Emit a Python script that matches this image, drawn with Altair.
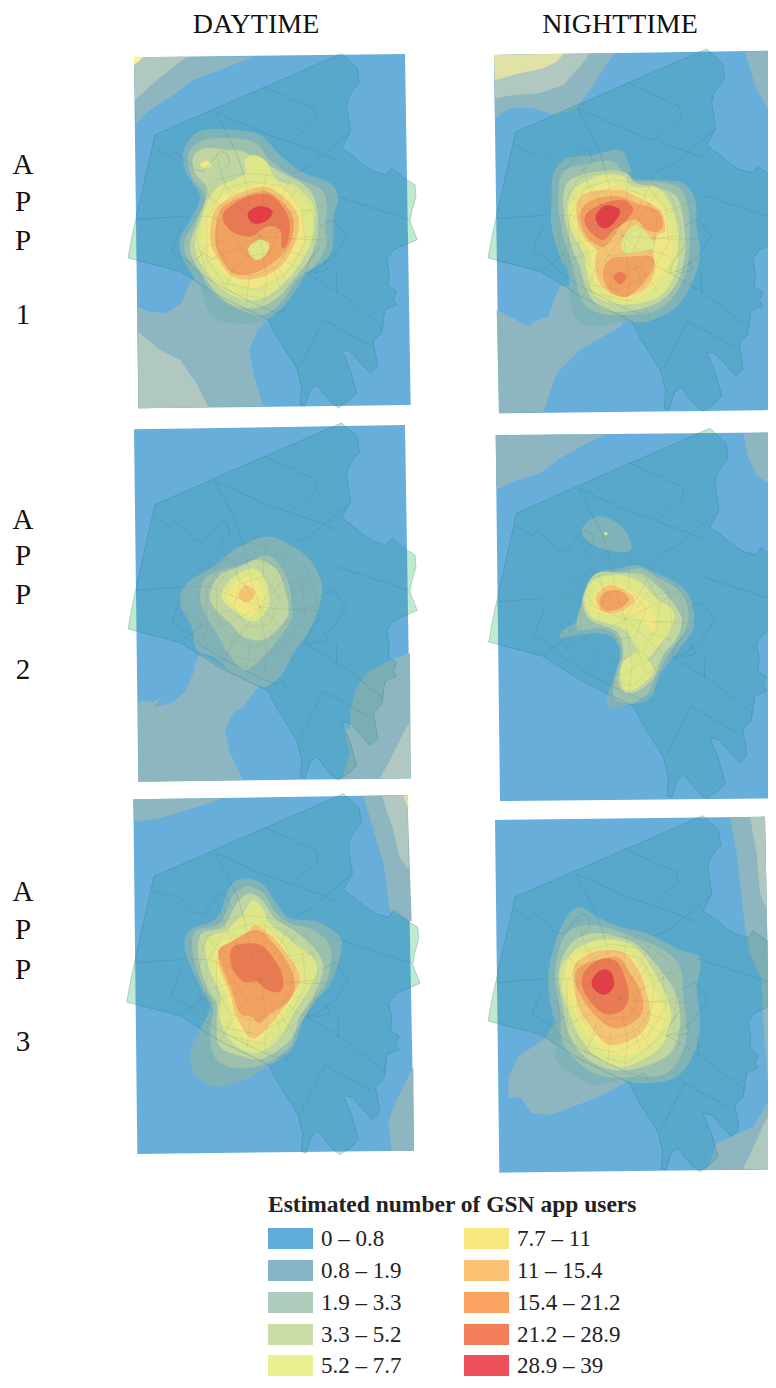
import altair as alt
import pandas as pd

LEGEND_COLORS = ["#5FABDA", "#86B6C6", "#ACCBBB", "#CBDCA8", "#E9F08F",
                 "#F8E67F", "#FBC273", "#FBA361", "#F27F58", "#ED5058"]
EDGE_COLORS = ["#67AEDB", "#8DB6C0", "#B0C8C0", "#E0E2A8", "#FFF98B",
               "#FFF17F", "#FFC86E", "#FFA55C", "#FF7B50", "#FF3B48"]
BLOB_COLORS = ["#67AEDB", "#80B3B8", "#9CC0AE", "#BFD6A0", "#DDE78A",
               "#EFE684", "#F2C474", "#F1A160", "#EA7A54", "#E23E48"]
LEVEL_LABELS = ["0 – 0.8", "0.8 – 1.9", "1.9 – 3.3", "3.3 – 5.2", "5.2 – 7.7",
                "7.7 – 11", "11 – 15.4", "15.4 – 21.2", "21.2 – 28.9", "28.9 – 39"]

# crop origins of the six maps
ORIGINS = [(120, 40), (480, 40), (120, 420), (480, 425), (120, 790), (480, 810)]
# west tip of county in each map and its stretch
TIPS = [(128, 258), (488, 258), (128, 629), (488.7, 642), (126.7, 1002), (488, 1021)]
STRETCH = [(1, 1), (1.023, 1.023), (1, 1.009), (1.035, 1.046), (1.014, 1.019), (1.006, 1.005)]

COUNTY = [(24,655),(36,590),(48,535),(105,285),(665,42),(680,55),(712,85),(718,130),(700,150),(685,175),(680,200),
          (692,275),(665,325),(700,350),(730,375),(760,395),(800,405),(815,385),(860,420),(885,435),(888,470),
          (875,515),(870,545),(878,565),(892,600),(820,630),(800,660),(808,700),(805,740),(830,755),(820,780),
          (830,795),(795,810),(785,880),(760,905),(770,960),(772,980),(750,1000),(690,935),(665,930),(690,990),
          (710,1060),(690,1080),(655,1105),(630,1085),(590,1035),(570,1050),(555,1100),(540,1095),(545,1045),
          (530,985),(470,890),(445,840),(300,770),(180,695)]

MAIN_LINES = [
    [(285,215),(350,340),(372,410)],
    [(285,215),(430,280),(600,340),(650,360)],
    [(520,400),(560,385),(690,280)],
    [(650,470),(865,540)],
    [(560,700),(660,760),(790,860)],
    [(180,530),(48,540)],
    [(430,140),(585,210),(590,240),(515,305)],
    [(610,840),(540,980)],
    [(610,840),(745,915)],
    [(650,700),(650,760)],
    [(105,325),(150,350),(165,335),(195,360),(225,390),(250,395),(300,335),(320,340),(330,370),(300,400)],
    [(600,560),(640,540),(680,590),(640,650),(590,690),(555,700),(570,660),(600,620)],
    [(610,660),(625,690),(580,700)],
    [(185,560),(155,635),(215,670),(250,640)],
    [(185,690),(210,670),(240,700),(300,740),(360,770),(420,800),(470,820),(490,810),(500,830)],
]
MESH_LINES = [
    [(372,410),(395,520),(420,590)],
    [(420,590),(470,500),(520,400)],
    [(420,590),(540,530),(650,470)],
    [(420,590),(560,600),(640,600)],
    [(420,590),(520,680),(560,700)],
    [(420,590),(440,720),(430,800)],
    [(420,590),(340,700),(300,770)],
    [(420,590),(280,660),(185,600)],
    [(420,590),(270,530),(180,530)],
    [(420,590),(320,450),(290,350)],
    [(330,470),(400,445),(480,470),(520,540),(510,620),(470,680),(400,710),(330,690),(290,620),(290,530),(330,470)],
    [(290,420),(380,400),(470,410),(560,470),(590,560),(580,650),(520,720),(440,780),(340,760),(260,700),(230,600),(250,490),(290,420)],
    [(360,520),(430,500),(480,560),(450,640),(380,650),(340,590),(360,520)],
    [(250,450),(300,510),(340,560)],
    [(530,450),(480,520),(450,560)],
    [(580,590),(500,600)],
    [(520,750),(470,680)],
    [(380,790),(390,690)],
    [(240,680),(320,630)],
    [(310,430),(345,465),(360,520)],
    [(440,400),(430,450),(430,500)],
    [(570,510),(500,520)],
    [(555,650),(490,630)],
    [(480,745),(450,660)],
    [(320,730),(350,660)],
    [(255,620),(330,600)],
    [(270,470),(330,520)],
    [(260,540),(260,660),(310,730),(410,750),(500,700),(555,610),(545,510),(490,440),(390,425),(310,450),(260,540)],
]

RASTER = [
    [(42,52),(855,42),(872,1095),(55,1105)],
    [(42,45),(875,32),(895,1110),(57,1120)],
    [(42,28),(855,15),(872,1075),(55,1085)],
    [(47,30),(885,22),(897,1120),(60,1128)],
    [(40,28),(862,15),(882,1082),(52,1092)],
    [(45,30),(855,20),(875,1078),(58,1088)],
]

# bands that run into the raster edge: (panel, level, outline)
EDGE_BANDS = [
    (0,1,[(48,250),(90,210),(160,165),(220,120),(300,90),(400,50),(42,52)]),
    (0,2,[(45,180),(100,130),(150,90),(200,50),(42,52)]),
    (0,4,[(43,75),(70,52),(42,52)]),
    (0,1,[(52,800),(90,815),(140,818),(185,790),(208,730),(240,700),(350,700),(450,830),(410,875),(388,930),(400,1000),(430,1098),(55,1105)]),
    (0,2,[(55,875),(120,930),(180,960),(230,1030),(265,1102),(55,1105)]),
    (1,1,[(45,235),(90,205),(160,205),(230,225),(290,205),(330,150),(375,80),(405,40),(42,45)]),
    (1,2,[(45,175),(100,165),(180,160),(250,135),(300,80),(330,40),(42,45)]),
    (1,3,[(45,120),(120,100),(190,85),(230,65),(250,42),(42,45)]),
    (1,1,[(50,810),(100,835),(145,860),(160,845),(205,830),(225,770),(240,740),(260,735),(400,830),(440,830),(420,860),(300,930),(230,1000),(190,1115),(57,1120)]),
    (1,1,[(795,35),(830,150),(860,200),(890,260),(880,32)]),
    (2,1,[(55,845),(100,845),(130,825),(100,860),(155,850),(195,815),(220,760),(225,730),(240,700),(400,790),(415,800),(370,860),(340,880),(315,930),(330,1000),(370,1080),(55,1085)]),
    (2,1,[(870,700),(800,725),(740,760),(705,810),(690,880),(690,930),(670,920),(690,1000),(665,1078),(872,1075)]),
    (2,2,[(868,905),(840,960),(810,1020),(780,1075),(872,1075)]),
    (3,1,[(50,195),(110,165),(180,145),(240,100),(320,55),(380,28),(47,30)]),
    (3,1,[(790,25),(805,100),(830,150),(890,195),(885,22)]),
    (4,1,[(42,95),(120,85),(220,55),(310,25),(40,28)]),
    (4,1,[(730,18),(770,150),(790,220),(810,360),(875,395),(862,15)]),
    (4,2,[(785,17),(820,120),(838,200),(866,240),(862,15)]),
    (4,3,[(850,17),(866,60),(862,15)]),
    (4,1,[(880,830),(850,890),(820,950),(805,1000),(815,1083),(882,1082)]),
    (5,1,[(750,22),(770,130),(795,350),(810,430),(845,510),(850,640),(868,870),(820,950),(710,1000),(680,1080),(875,1078),(855,20)]),
    (5,2,[(810,22),(830,130),(840,250),(860,300),(855,20)]),
    (5,2,[(872,900),(830,990),(790,1076),(875,1078)]),
    (5,1,[(85,800),(115,740),(200,680),(230,620),(450,810),(360,860),(210,915),(155,910),(120,860),(85,865)]),
]

# smooth closed bands, in drawing order: (panel, level, outline)
SMOOTH_BANDS = [
    # APP 1 daytime
    (0,1,[(270,268),(340,270),(420,285),(480,345),(545,395),(630,430),(655,475),(640,530),(640,600),(625,650),(560,700),(535,740),(490,800),(440,840),(400,850),(330,850),(280,830),(255,790),(235,730),(190,660),(180,600),(210,540),(240,470),(200,400),(190,340),(220,285)]),
    (0,2,[(300,295),(400,305),(450,360),(520,410),(600,445),(620,490),(615,570),(620,610),(590,670),(530,720),(490,780),(430,825),(360,810),(280,760),(240,700),(200,650),(195,600),(225,545),(255,470),(215,410),(205,345),(240,305)]),
    (0,3,[(320,330),(370,335),(470,390),(560,440),(590,500),(590,600),(560,670),(520,720),(470,775),(400,805),(320,785),(260,720),(210,630),(235,540),(262,450),(225,400),(220,350),(255,325)]),
    (0,4,[(400,345),(440,365),(470,420),(530,440),(580,500),(575,600),(540,670),(500,720),(440,770),(380,780),(310,750),(255,690),(225,620),(245,530),(285,450),(340,420),(375,400),(375,360)]),
    (0,5,[(240,373),(258,362),(275,373),(258,386)]),
    (0,5,[(430,430),(480,440),(540,500),(555,590),(530,650),(480,710),(420,740),(350,730),(280,670),(250,600),(265,520),(310,465),(370,445)]),
    (0,6,[(430,440),(490,470),(535,530),(525,610),(480,680),(410,715),(340,710),(290,650),(270,590),(285,510),(340,470)]),
    (0,7,[(290,550),(310,500),(380,465),(440,455),(490,490),(520,540),(510,610),(470,660),(400,700),(340,700),(300,650),(285,600)]),
    (0,8,[(310,520),(380,470),(450,465),(495,510),(510,560),(500,615),(485,620),(480,570),(440,560),(390,590),(330,570)]),
    (0,8,[(335,520),(385,495),(440,490),(495,525),(440,545),(395,560),(350,550)]),
    (0,9,[(383,522),(410,500),(445,503),(458,520),(435,545),(400,550)]),
    (0,4,[(385,625),(415,600),(447,610),(440,640),(415,660),(395,650)]),
    # APP 1 nighttime
    (1,1,[(220,400),(260,355),(340,345),(420,330),(450,380),(460,415),(530,420),(610,430),(645,480),(650,560),(660,640),(640,720),(590,800),(500,845),(430,845),(340,860),(290,840),(270,780),(265,700),(240,650),(215,560),(215,470)]),
    (1,2,[(250,395),(330,370),(400,365),(450,420),(530,425),(600,445),(625,510),(630,600),(620,690),(580,770),(520,815),(440,825),(360,820),(310,790),(290,730),(270,650),(245,570),(235,470)]),
    (1,3,[(270,420),(350,395),(430,395),(470,430),(530,440),(590,470),(610,540),(615,640),(590,730),(530,790),(430,815),(360,800),(320,750),(300,680),(275,620),(255,540),(250,470)]),
    (1,4,[(290,440),(370,405),(430,410),(460,440),(530,445),(570,490),(595,580),(590,680),(550,760),(480,790),(400,790),(340,760),(320,690),(310,640),(270,560),(265,490)]),
    (1,5,[(300,465),(370,430),(430,440),(470,460),(540,490),(570,560),(575,650),(540,720),(480,770),(410,775),(350,730),(330,680),(330,640),(285,570),(270,510)]),
    (1,6,[(330,455),(420,450),(470,470),(540,510),(555,570),(530,590),(520,640),(525,690),(500,740),(440,770),(390,760),(355,720),(345,660),(350,630),(310,590),(290,530),(295,480)]),
    (1,4,[(425,605),(445,570),(470,555),(500,580),(530,620),(500,630),(470,635),(435,640)]),
    (1,7,[(305,510),(350,475),(420,470),(470,490),(530,510),(550,550),(535,575),(500,570),(470,540),(430,550),(400,590),(370,620),(330,600),(305,560)]),
    (1,7,[(370,690),(395,655),(450,650),(515,650),(520,680),(490,730),(440,770),(400,760),(375,730)]),
    (1,8,[(320,520),(370,490),(430,480),(460,510),(430,550),(400,570),(370,600),(335,580),(315,550)]),
    (1,9,[(348,525),(375,497),(415,505),(418,525),(395,555),(370,565),(352,550)]),
    (1,8,[(400,712),(420,695),(440,712),(420,733)]),
    # APP 2 daytime
    (2,1,[(440,350),(510,375),(570,420),(605,490),(600,550),(570,630),(520,700),(480,770),(420,800),(330,750),(280,710),(230,690),(215,620),(180,550),(200,490),(280,440),(350,385)]),
    (2,2,[(440,405),(490,450),(510,510),(515,590),(480,650),(420,720),(370,750),(325,700),(290,640),(260,590),(240,530),(255,475),(320,445),(380,430)]),
    (2,3,[(415,418),(470,450),(495,510),(505,580),(470,630),(425,660),(370,650),(330,610),(280,560),(270,520),(300,465),(360,440)]),
    (2,4,[(400,445),(440,490),(445,560),(400,605),(340,570),(305,530),(330,480)]),
    (2,5,[(385,470),(425,500),(430,540),(395,590),(340,560),(320,525),(345,490)]),
    (2,6,[(375,495),(405,515),(385,545),(355,530)]),
    # APP 2 nighttime
    (3,1,[(305,320),(330,285),(370,275),(420,300),(450,345),(450,378),(400,378),(340,360)]),
    (3,4,[(372,326),(377,321),(383,326),(377,331)]),
    (3,1,[(340,450),(420,430),(470,420),(520,440),(600,480),(635,530),(640,610),(600,670),(540,750),(510,820),(440,840),(400,850),(380,825),(400,760),(420,690),(400,640),(350,625),(290,630),(245,640),(245,620),(300,580),(310,520)]),
    (3,2,[(345,450),(420,440),(480,430),(520,450),(600,500),(625,560),(615,620),(570,680),(530,750),(500,810),(440,835),(400,810),(410,740),(425,680),(405,630),(360,610),(300,615),(290,590),(310,520)]),
    (3,3,[(350,445),(430,445),(490,450),(560,510),(605,580),(590,640),(550,690),(520,760),(470,800),(430,800),(415,760),(430,680),(410,620),(340,590),(315,560),(310,510)]),
    (3,4,[(350,460),(420,450),(480,470),(530,520),(580,560),(570,620),(530,670),(500,700),(470,670),(440,620),(400,600),(340,580),(315,540),(320,490)]),
    (3,4,[(470,680),(500,700),(520,740),(470,790),(430,790),(425,720)]),
    (3,5,[(345,500),(390,475),(440,485),(490,520),(525,570),(530,615),(510,620),(495,590),(440,570),(380,570),(340,550)]),
    (3,5,[(505,585),(525,590),(530,615),(510,620)]),
    (3,6,[(350,510),(390,480),(440,500),(465,525),(430,555),(385,565),(355,545)]),
    (3,7,[(360,520),(385,497),(425,500),(447,525),(420,550),(385,558),(362,545)]),
    # APP 3 daytime
    (4,1,[(380,265),(430,285),(470,340),(510,385),(590,395),(660,440),(660,500),(625,590),(560,660),(520,770),(450,825),(370,870),(290,890),(230,860),(210,790),(240,720),(270,650),(240,590),(195,480),(210,420),(290,385),(330,290)]),
    (4,2,[(380,290),(430,310),(465,365),(510,400),(580,420),(630,470),(625,560),(580,640),(530,720),(510,770),(440,820),(360,835),(290,810),(270,730),(280,650),(250,590),(220,500),(225,425),(300,400),(335,320)]),
    (4,3,[(390,310),(430,335),(465,385),(520,420),(580,470),(610,530),(585,610),(540,680),(510,750),(430,805),(370,800),(300,770),(290,700),(290,640),(260,590),(235,500),(245,430),(310,410),(350,340)]),
    (4,4,[(400,330),(430,360),(450,400),(510,450),(590,520),(565,600),(520,670),(480,740),(410,790),(340,760),(300,690),(300,610),(265,530),(260,450),(320,420),(370,370)]),
    (4,5,[(405,400),(450,425),(510,490),(545,570),(510,640),(450,720),(395,760),(340,700),(320,620),(285,530),(300,460),(370,430)]),
    (4,6,[(405,405),(445,430),(500,490),(540,565),(500,640),(445,710),(395,745),(350,680),(330,610),(295,520),(310,470),(375,435)]),
    (4,7,[(410,420),(460,460),(510,530),(525,590),(500,640),(450,670),(420,700),(395,680),(360,670),(335,600),(295,490),(335,455)]),
    (4,8,[(335,475),(385,460),(430,470),(470,520),(490,570),(480,605),(440,600),(410,575),(370,575),(335,530)]),
    # APP 3 nighttime
    (5,1,[(300,292),(350,320),(420,350),(500,370),(600,420),(660,445),(650,540),(660,620),(650,710),(590,800),(480,820),(440,810),(400,815),(340,825),(270,790),(225,745),(240,680),(215,600),(205,500),(225,400),(260,320)]),
    (5,2,[(290,350),(370,350),(470,385),(550,420),(600,470),(610,560),(620,650),(610,720),(560,790),(470,800),(380,800),(310,770),(250,700),(240,600),(225,490),(245,395)]),
    (5,3,[(340,370),(430,385),(490,420),(550,490),(590,560),(600,650),(570,730),(490,770),(400,780),(320,745),(270,680),(250,590),(235,490),(270,405)]),
    (5,4,[(360,390),(430,395),(480,425),(530,500),(570,590),(565,670),(520,730),(430,770),(350,740),(300,680),(265,600),(240,490),(285,420)]),
    (5,5,[(370,418),(440,425),(480,470),(520,540),(555,610),(530,680),(470,730),(385,730),(330,680),(290,620),(260,540),(260,460),(310,425)]),
    (5,6,[(375,420),(435,430),(480,490),(500,550),(510,620),(470,680),(390,705),(340,660),(300,600),(280,520),(285,465),(330,430)]),
    (5,7,[(375,445),(420,445),(450,490),(480,540),(490,590),(470,630),(410,655),(360,630),(310,570),(285,510),(300,470)]),
    (5,8,[(375,445),(415,460),(440,520),(445,570),(420,605),(370,610),(320,560),(305,510),(325,470)]),
    (5,9,[(372,478),(395,490),(402,525),(385,550),(360,552),(335,525),(345,495)]),
]

COLUMN_TITLES = [("DAYTIME", 256, 25), ("NIGHTTIME", 620, 25)]
ROW_LETTERS = [("A",23,165),("P",23,202),("P",23,241),("1",23,315),
               ("A",23,520),("P",23,556),("P",23,595),("2",23,670),
               ("A",23,892),("P",23,930),("P",23,970),("3",23,1042)]
LEGEND_TITLE = ("Estimated number of GSN app users", 268, 1205)
LEGEND_X = [268, 464]
LEGEND_Y = [(1228,1249),(1260,1281),(1292,1313),(1324,1345),(1355,1376)]

X_DOMAIN = [8, 768]
Y_DOMAIN = [1378, 8]


def crop(p, pts):
    ox, oy = ORIGINS[p]
    return [(ox + x / 3, oy + y / 3) for x, y in pts]


def county_xy(p, pts):
    tx, ty = TIPS[p]
    sx, sy = STRETCH[p]
    return [(tx + sx * (x - 24) / 3, ty + sy * (y - 655) / 3) for x, y in pts]


def rows(records, palette=EDGE_COLORS):
    out = []
    for n, (level, pts) in enumerate(records):
        for i, (x, y) in enumerate(pts):
            out.append({"pid": f"s{n:04d}", "seq": i, "x": x, "y": y, "color": palette[level]})
    return pd.DataFrame(out)


edge_df = rows([(0, crop(p, RASTER[p])) for p in range(6)] +
               [(lv, crop(p, pts)) for p, lv, pts in EDGE_BANDS])
smooth_df = rows([(lv, crop(p, pts)) for p, lv, pts in SMOOTH_BANDS], BLOB_COLORS)
county_df = rows([(0, county_xy(p, COUNTY)) for p in range(6)])
main_df = rows([(0, county_xy(p, ln)) for p in range(6) for ln in MAIN_LINES])
mesh_df = rows([(0, county_xy(p, ln)) for p in range(6) for ln in MESH_LINES])

X = alt.X("x:Q", scale=alt.Scale(domain=X_DOMAIN), axis=None)
Y = alt.Y("y:Q", scale=alt.Scale(domain=Y_DOMAIN), axis=None)
band_fill = alt.Fill("color:N", scale=None)
enc = dict(x=X, y=Y, detail="pid:N", order="seq:Q")

under = alt.Chart(county_df).mark_line(interpolate="linear-closed", fill="#E0FDDD", strokeWidth=0, clip=True).encode(**enc)
edges = alt.Chart(edge_df).mark_line(interpolate="linear-closed", strokeWidth=0, clip=True).encode(fill=band_fill, **enc)
over = alt.Chart(county_df).mark_line(interpolate="linear-closed", fill="#008670", fillOpacity=0.15,
                                      strokeWidth=0, clip=True).encode(**enc)
smooth = alt.Chart(smooth_df).mark_line(interpolate="cardinal-closed", strokeWidth=0, clip=True).encode(fill=band_fill, **enc)
outline = alt.Chart(county_df).mark_line(interpolate="linear-closed", stroke="#2F7080", strokeWidth=0.7,
                                         strokeOpacity=0.4, clip=True).encode(**enc)
main_lines = alt.Chart(main_df).mark_line(stroke="#2F6F80", strokeWidth=0.7, opacity=0.3, clip=True).encode(**enc)
mesh = alt.Chart(mesh_df).mark_line(stroke="#7F7F60", strokeWidth=0.5, opacity=0.28, clip=True).encode(**enc)

heads = alt.Chart(pd.DataFrame(COLUMN_TITLES, columns=["t", "x", "y"])).mark_text(
    font="Liberation Serif", fontSize=28, color="#111111", align="center", baseline="middle"
).encode(x=X, y=Y, text="t:N")
letters = alt.Chart(pd.DataFrame(ROW_LETTERS, columns=["t", "x", "y"])).mark_text(
    font="Liberation Serif", fontSize=29, color="#111111", align="center", baseline="middle"
).encode(x=X, y=Y, text="t:N")
leg_title = alt.Chart(pd.DataFrame([LEGEND_TITLE], columns=["t", "x", "y"])).mark_text(
    font="Liberation Serif", fontSize=23.5, fontWeight="bold", color="#222222", align="left", baseline="middle"
).encode(x=X, y=Y, text="t:N")

leg_rows = []
for lv, lab in enumerate(LEVEL_LABELS):
    col = lv // 5
    y0, y1 = LEGEND_Y[lv % 5]
    x0 = LEGEND_X[col]
    leg_rows.append({"color": LEGEND_COLORS[lv], "t": lab, "x": x0, "x2": x0 + 45, "y": y0, "y2": y1,
                     "tx": x0 + 53, "ty": (y0 + y1) / 2})
leg_df = pd.DataFrame(leg_rows)
swatches = alt.Chart(leg_df).mark_rect(clip=True).encode(x=X, x2="x2:Q", y=Y, y2="y2:Q", fill=band_fill)
leg_text = alt.Chart(leg_df).mark_text(
    font="Liberation Serif", fontSize=23, color="#222222", align="left", baseline="middle"
).encode(x=alt.X("tx:Q", scale=alt.Scale(domain=X_DOMAIN), axis=None),
         y=alt.Y("ty:Q", scale=alt.Scale(domain=Y_DOMAIN), axis=None), text="t:N")

chart = alt.layer(under, edges, over, smooth, outline, main_lines, mesh, heads, letters, leg_title, swatches, leg_text).properties(
    width=760, height=1370, padding=0, background="white",
    autosize=alt.AutoSizeParams(type="none")
).configure_view(stroke=None)
chart.save("out.html", embed_options={"renderer": "svg", "actions": False})
